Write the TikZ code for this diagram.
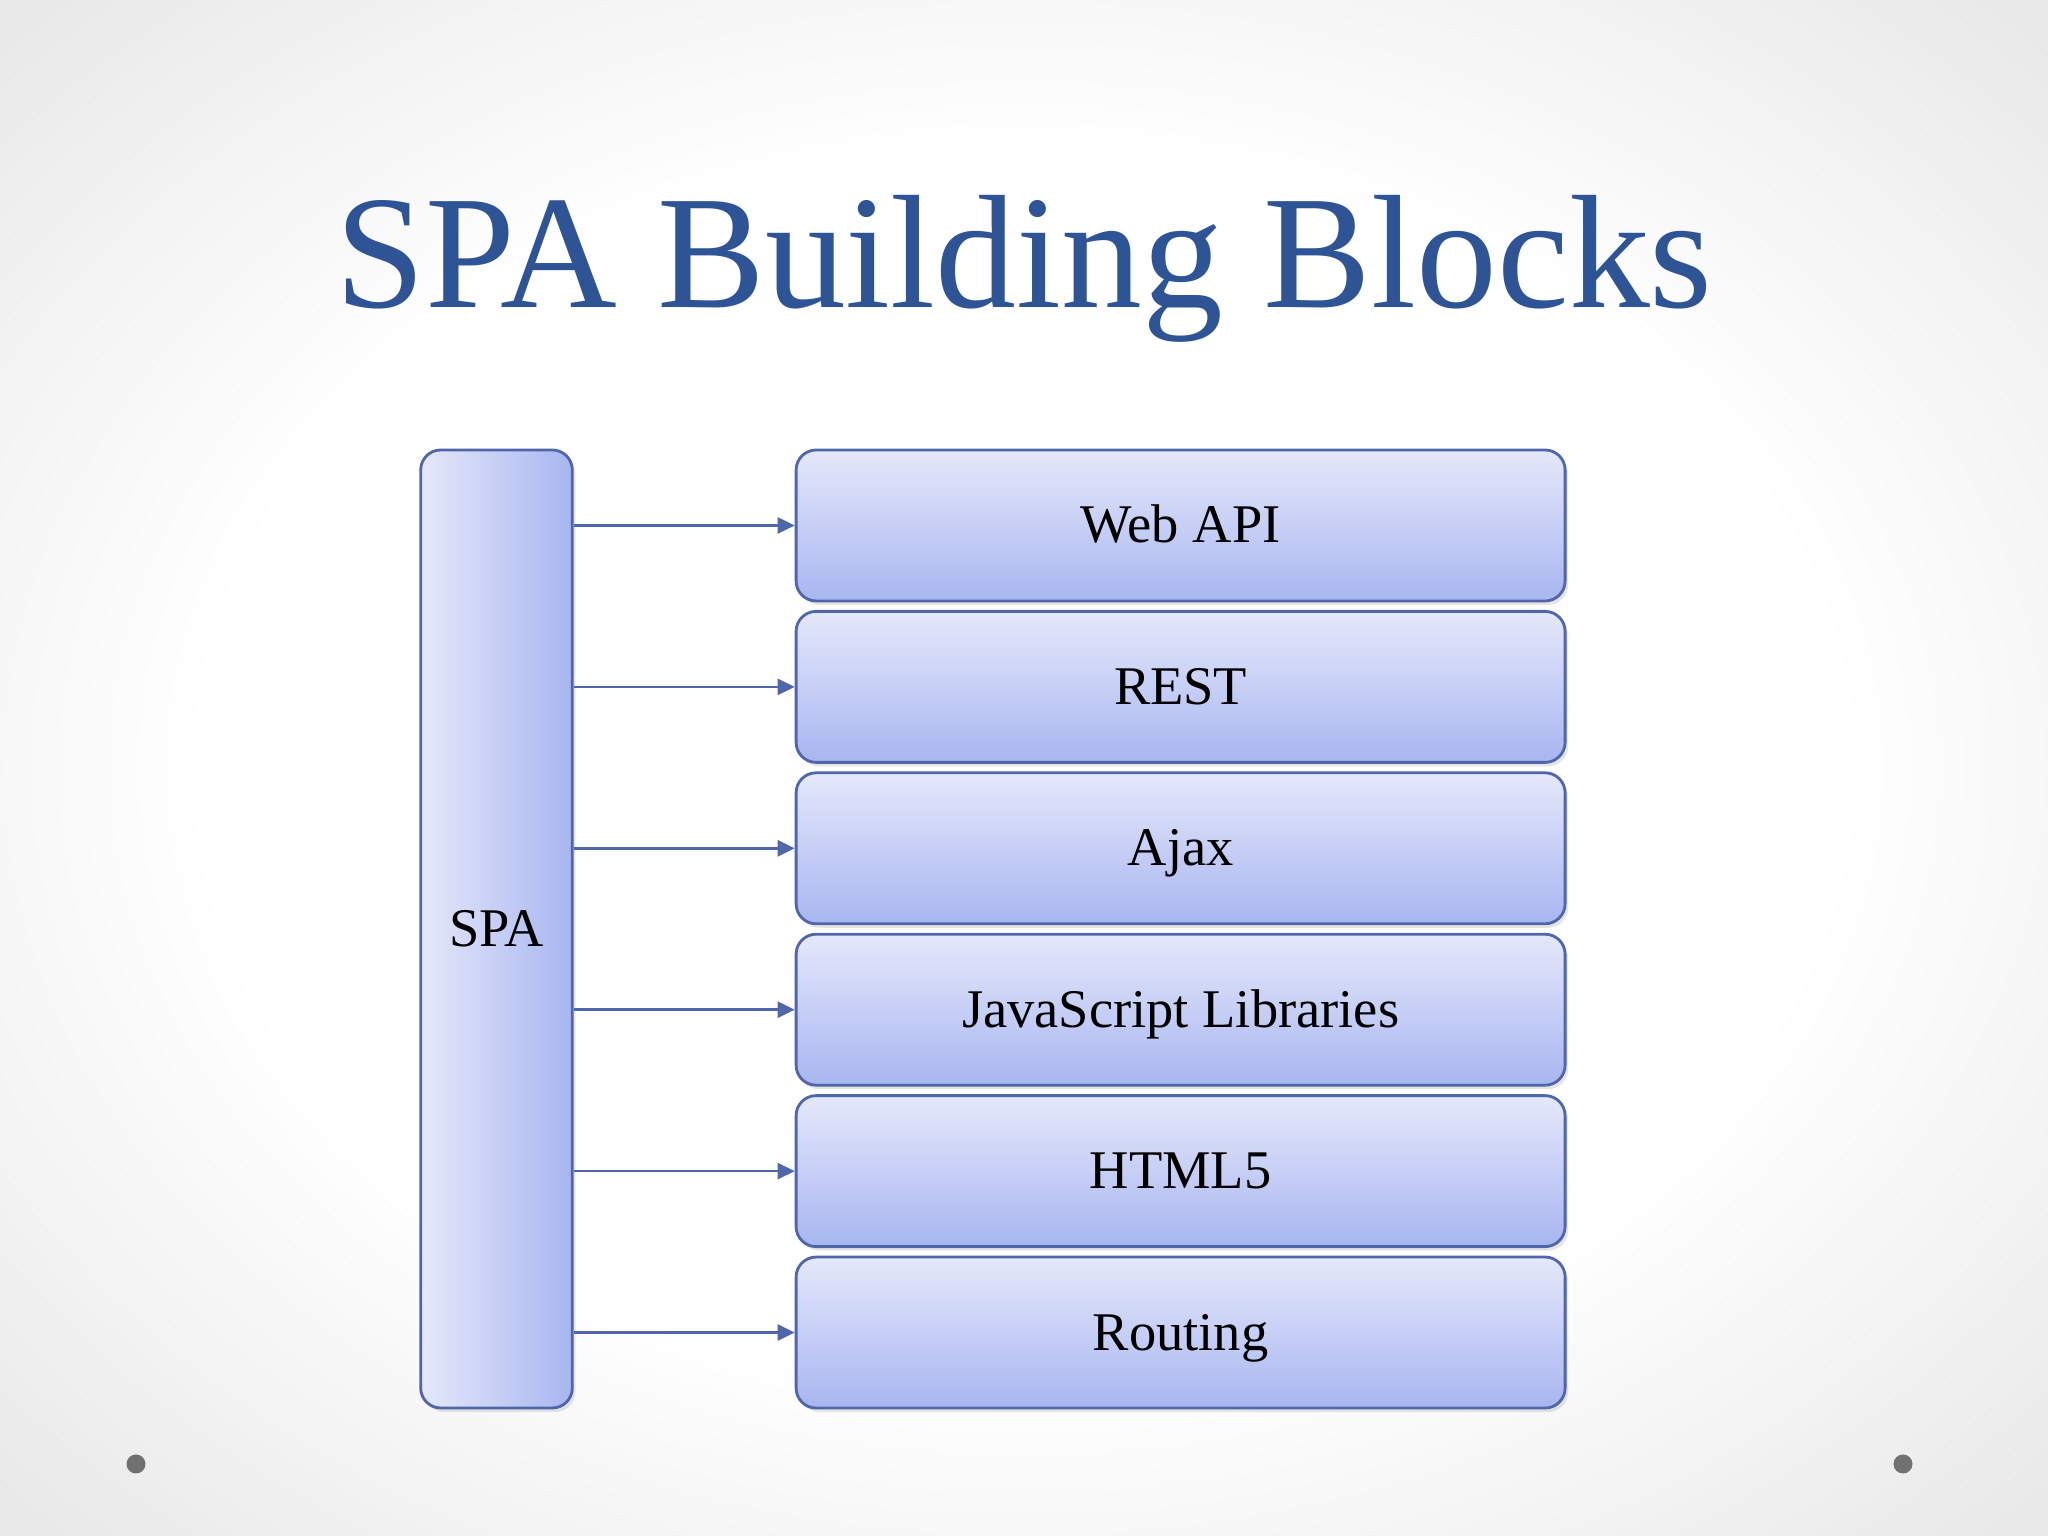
\documentclass[tikz,border=0pt]{standalone}
\usepackage{fontspec}
\setmainfont{Liberation Serif}
\usepackage{xcolor}
\usepackage{tikz}
\usetikzlibrary{arrows.meta,positioning,shadows}

\definecolor{titleblue}{RGB}{46,84,150}
\definecolor{edgeblue}{RGB}{80,102,170}
\definecolor{filltop}{RGB}{229,232,250}
\definecolor{fillbot}{RGB}{168,182,240}
\definecolor{dotgray}{RGB}{113,113,113}
\pgfdeclareradialshading{slidebg}{\pgfpoint{0bp}{0bp}}{color(0bp)=(white); color(20bp)=(white); color(50bp)=(black!18); color(71bp)=(black!32)}

\begin{document}
\begin{tikzpicture}[
  >=Stealth,
  block/.style={draw=edgeblue, rounded corners=0.2cm, line width=0.8pt, top color=filltop, bottom color=fillbot, minimum width=7.69cm, minimum height=1.51cm, text height=0.45cm, text depth=0.1cm, font=\fontsize{15.5pt}{18pt}\selectfont, align=center, drop shadow={shadow xshift=0.03cm, shadow yshift=-0.04cm, opacity=0.2}},
  tall/.style={block, left color=filltop, right color=fillbot, minimum width=1.516cm, minimum height=9.58cm},
  arrow/.style={-{Triangle[length=0.17cm,width=0.16cm]}, line width=0.7pt, edgeblue}
]

\useasboundingbox (0,0) rectangle (20.48,15.36);
\shade[shading=slidebg] (0,0) rectangle (20.48,15.36);

\node[anchor=base, text=titleblue, font=\fontsize{46pt}{52pt}\selectfont] (title) at (10.24,12.28) {SPA Building Blocks};

\node[tall] (spa) at (4.965,6.07) {SPA};
\node[block, right=2.21cm of spa.north east, anchor=north west] (webapi) {Web API};
\node[block, below=0.076cm of webapi] (rest) {REST};
\node[block, below=0.076cm of rest] (ajax) {Ajax};
\node[block, below=0.076cm of ajax] (jslib) {JavaScript Libraries};
\node[block, below=0.076cm of jslib] (html) {HTML5};
\node[block, below=0.076cm of html] (routing) {Routing};

\draw[arrow] (spa.east |- webapi.west) -- (webapi.west);
\draw[arrow] (spa.east |- rest.west) -- (rest.west);
\draw[arrow] (spa.east |- ajax.west) -- (ajax.west);
\draw[arrow] (spa.east |- jslib.west) -- (jslib.west);
\draw[arrow] (spa.east |- html.west) -- (html.west);
\draw[arrow] (spa.east |- routing.west) -- (routing.west);

\fill[dotgray] (1.36,0.72) circle (0.095cm);
\fill[dotgray] (19.03,0.72) circle (0.095cm);

\end{tikzpicture}
\end{document}
